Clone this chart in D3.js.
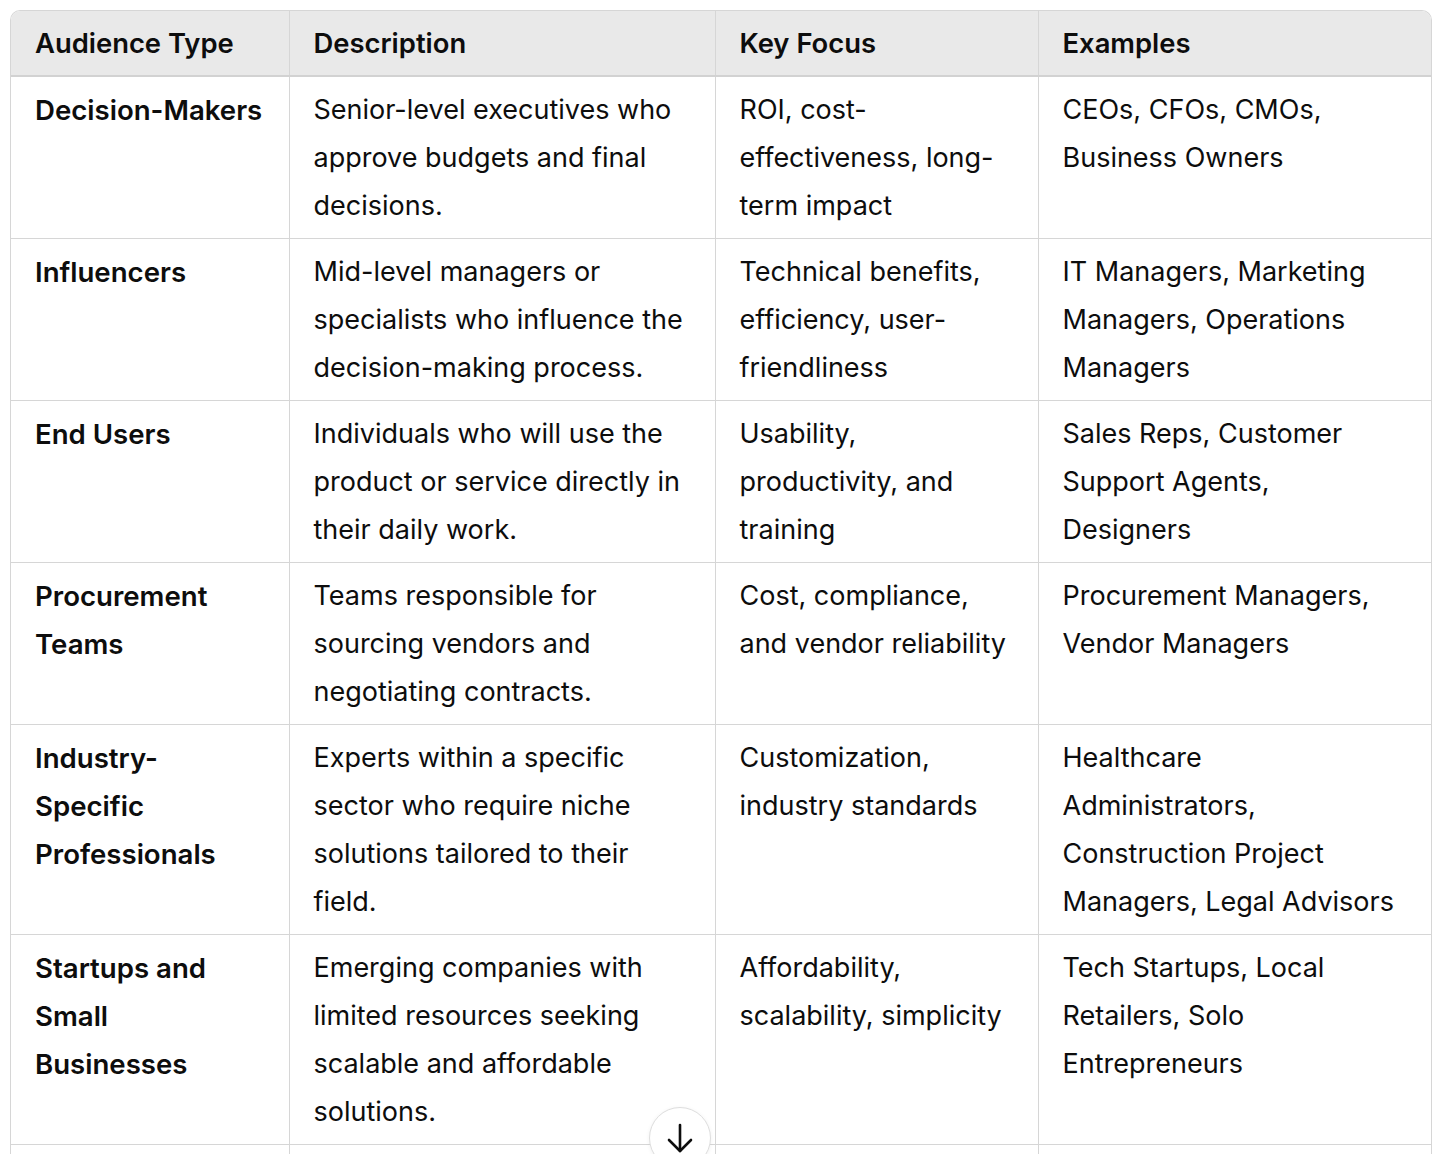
<!DOCTYPE html>
<html>
<head>
<meta charset="utf-8">
<script src="https://cdn.jsdelivr.net/npm/d3@7.9.0/dist/d3.min.js"></script>
<style>
  html, body { margin: 0; padding: 0; background: #fff; width: 1440px; height: 1154px; overflow: hidden; }
  body { font-family: Inter, "Noto Sans", sans-serif; color: #0d0d0d; }
  .wrap {
    position: absolute; left: 10px; top: 10px; width: 1420px;
    border: 1px solid #d6d6d6; border-bottom: none; border-radius: 10px 10px 0 0; overflow: hidden;
  }
  table { border-collapse: collapse; table-layout: fixed; width: 1420px; }
  th, td { border-left: 1px solid #d6d6d6; border-top: 1px solid #d6d6d6; vertical-align: top;
    text-align: left; font-size: 27px; line-height: 48px; white-space: pre-line; }
  th:first-child, td:first-child { border-left: none; }
  th { background: #e9e9e9; font-weight: 600; font-size: 27.4px; height: 62px; padding: 1px 20px 0 24px; line-height: 63px; border-top: none;
    border-bottom: 2px solid #d2d2d2; }
  td { padding: 9px 10px 8px 24px; }
  td.first { font-weight: 600; font-size: 27.6px; }
  .btn { position: absolute; left: 649px; top: 1107px; width: 60px; height: 60px; border-radius: 50%;
    background: #fff; border: 1px solid #dedede; box-shadow: 0 1px 4px rgba(0,0,0,0.06); }
</style>
</head>
<body>
<div class="wrap"><table id="t"></table></div>
<div class="btn"><svg id="arrow" width="60" height="60"></svg></div>
<script>
const headers = ["Audience Type", "Description", "Key Focus", "Examples"];
const colWidths = [278, 426, 323, 393];

const audienceTypes = ["Decision-Makers", "Influencers", "End Users", "Procurement\nTeams",
  "Industry-\nSpecific\nProfessionals", "Startups and\nSmall\nBusinesses", ""];
const descriptions = [
  "Senior-level executives who\napprove budgets and final\ndecisions.",
  "Mid-level managers or\nspecialists who influence the\ndecision-making process.",
  "Individuals who will use the\nproduct or service directly in\ntheir daily work.",
  "Teams responsible for\nsourcing vendors and\nnegotiating contracts.",
  "Experts within a specific\nsector who require niche\nsolutions tailored to their\nfield.",
  "Emerging companies with\nlimited resources seeking\nscalable and affordable\nsolutions.",
  ""];
const keyFocus = [
  "ROI, cost-\neffectiveness, long-\nterm impact",
  "Technical benefits,\nefficiency, user-\nfriendliness",
  "Usability,\nproductivity, and\ntraining",
  "Cost, compliance,\nand vendor reliability",
  "Customization,\nindustry standards",
  "Affordability,\nscalability, simplicity",
  ""];
const examples = [
  "CEOs, CFOs, CMOs,\nBusiness Owners",
  "IT Managers, Marketing\nManagers, Operations\nManagers",
  "Sales Reps, Customer\nSupport Agents,\nDesigners",
  "Procurement Managers,\nVendor Managers",
  "Healthcare\nAdministrators,\nConstruction Project\nManagers, Legal Advisors",
  "Tech Startups, Local\nRetailers, Solo\nEntrepreneurs",
  ""];
const rowHeights = [162, 162, 162, 162, 210, 210, 162];

const rows = audienceTypes.map((a, i) => [a, descriptions[i], keyFocus[i], examples[i]]);

const table = d3.select("#t");
table.append("colgroup").selectAll("col").data(colWidths).join("col")
  .style("width", d => d + "px");
table.append("thead").append("tr").selectAll("th").data(headers).join("th").text(d => d);

table.append("tbody").selectAll("tr").data(rows).join("tr")
  .style("height", (d, i) => (rowHeights[i] - 2) + "px")
  .selectAll("td").data(d => d).join("td")
  .attr("class", (d, i) => i === 0 ? "first" : null)
  .text(d => d);

// scroll-down arrow
const svg = d3.select("#arrow");
const line = d3.line();
svg.append("path").attr("d", line([[30, 17], [30, 43]]))
  .attr("stroke", "#0d0d0d").attr("stroke-width", 2.6).attr("stroke-linecap", "round").attr("fill", "none");
svg.append("path").attr("d", line([[19, 32], [30, 43], [41, 32]]))
  .attr("stroke", "#0d0d0d").attr("stroke-width", 2.6).attr("stroke-linecap", "round")
  .attr("stroke-linejoin", "round").attr("fill", "none");
</script>
</body>
</html>
